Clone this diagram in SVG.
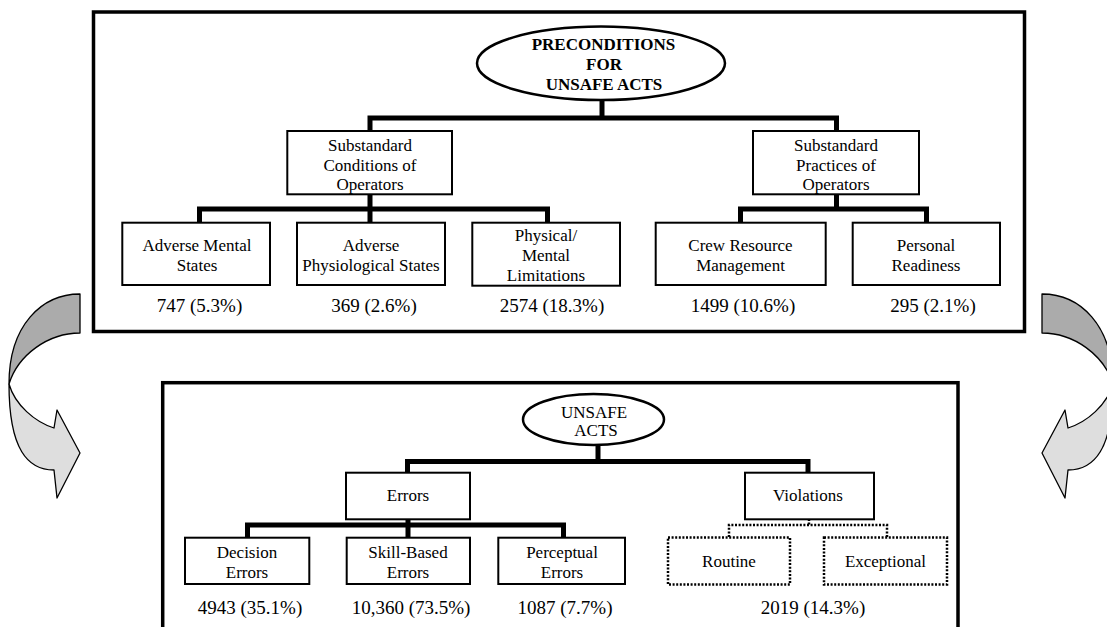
<svg xmlns="http://www.w3.org/2000/svg" width="1107" height="627" viewBox="0 0 1107 627">
<style>
text{font-family:"Liberation Serif","Times New Roman",serif;font-size:17px;fill:#000;text-anchor:middle}
.num{font-size:19px}
.b{font-weight:bold}
.frame{fill:none;stroke:#000;stroke-width:3.5}
.box{fill:#fff;stroke:#000;stroke-width:2}
.dbox{fill:#fff;stroke:#000;stroke-width:2.5;stroke-dasharray:2 1.6}
.ell{fill:#fff;stroke:#000;stroke-width:2.5}
.con{fill:none;stroke:#000;stroke-width:5}
.dcon{fill:none;stroke:#000;stroke-width:2.5;stroke-dasharray:2 1.6}
.back{fill:#ababab;stroke:#000;stroke-width:1.3;stroke-linejoin:round}
.front{fill:#dedede;stroke:#000;stroke-width:1.3;stroke-linejoin:round}
</style>
<rect width="1107" height="627" fill="#fff"/>

<!-- frames -->
<rect class="frame" x="93.5" y="12" width="931" height="319.5"/>
<rect class="frame" x="162.7" y="382.7" width="795.3" height="270"/>

<!-- curved arrows -->
<g id="arrow-left">
<path class="back" d="M80,294 C42,294 9,325 9,384 C18,355 48,333 80,333 Z"/>
<path class="front" d="M9,384 C9,450 28,470 54,470 L57,498 L80,453 L57,410 L54,428 C35,422 15,405 9,384 Z"/>
</g>
<g id="arrow-right" transform="translate(1122,0) scale(-1,1)">
<path class="back" d="M80,294 C42,294 9,325 9,384 C18,355 48,333 80,333 Z"/>
<path class="front" d="M9,384 C9,450 28,470 54,470 L57,498 L80,453 L57,410 L54,428 C35,422 15,405 9,384 Z"/>
</g>

<!-- connectors -->
<g id="connectors">
<path class="con" d="M602,100 V118 M370,131 V118 H836.5 V131"/>
<path class="con" d="M370,194 V209 M199.5,223 V209 H547.5 V223 M370,209 V223"/>
<path class="con" d="M836.5,194 V209 M740.5,223 V209 H926.5 V223"/>
<path class="con" d="M598,445 V461.5 M407.5,473 V461.5 H808 V473"/>
<path class="con" d="M408,519 V525 M247.5,538 V525 H563.5 V538 M408,525 V538"/>
<path class="dcon" d="M809,519 V525 M729,537 V525 H887 V537"/>
</g>

<!-- top tree -->
<g id="preconditions">
<ellipse class="ell" cx="601" cy="63.3" rx="124" ry="36.7"/>
<text class="b" x="603.5" y="50">PRECONDITIONS</text>
<text class="b" x="604" y="70">FOR</text>
<text class="b" x="604" y="90">UNSAFE ACTS</text>
</g>
<g id="substandard-conditions">
<rect class="box" x="287.3" y="131" width="164.7" height="63.3"/>
<text x="370" y="151">Substandard</text>
<text x="370" y="170.5">Conditions of</text>
<text x="370" y="190">Operators</text>
</g>
<g id="substandard-practices">
<rect class="box" x="753" y="131" width="166" height="63.3"/>
<text x="836" y="151">Substandard</text>
<text x="836" y="170.5">Practices of</text>
<text x="836" y="190">Operators</text>
</g>
<g id="adverse-mental">
<rect class="box" x="122.3" y="222.7" width="147.7" height="62.3"/>
<text x="197" y="251">Adverse Mental</text>
<text x="197" y="271">States</text>
<text class="num" x="199.5" y="312">747 (5.3%)</text>
</g>
<g id="adverse-physiological">
<rect class="box" x="297" y="222.7" width="148" height="62.3"/>
<text x="371" y="251">Adverse</text>
<text x="371" y="271">Physiological States</text>
<text class="num" x="374" y="312">369 (2.6%)</text>
</g>
<g id="physical-mental">
<rect class="box" x="472.3" y="222.7" width="147.7" height="63"/>
<text x="546" y="240.5">Physical/</text>
<text x="546" y="260.5">Mental</text>
<text x="546" y="280.5">Limitations</text>
<text class="num" x="552" y="312">2574 (18.3%)</text>
</g>
<g id="crew-resource">
<rect class="box" x="655.7" y="222.7" width="170" height="62.3"/>
<text x="740.5" y="251">Crew Resource</text>
<text x="740.5" y="271">Management</text>
<text class="num" x="743" y="312">1499 (10.6%)</text>
</g>
<g id="personal-readiness">
<rect class="box" x="852.7" y="222.7" width="147.3" height="62.3"/>
<text x="926" y="251">Personal</text>
<text x="926" y="271">Readiness</text>
<text class="num" x="933" y="312">295 (2.1%)</text>
</g>

<!-- bottom tree -->
<g id="unsafe-acts">
<ellipse class="ell" cx="593.5" cy="419.5" rx="70.5" ry="25.5"/>
<text x="594" y="418">UNSAFE</text>
<text x="596" y="436">ACTS</text>
</g>
<g id="errors">
<rect class="box" x="346" y="472.7" width="124" height="46.6"/>
<text x="408" y="501">Errors</text>
</g>
<g id="violations">
<rect class="box" x="745" y="472.7" width="129" height="46.6"/>
<text x="808" y="501">Violations</text>
</g>
<g id="decision-errors">
<rect class="box" x="185" y="537.7" width="124.3" height="46.3"/>
<text x="247" y="558.3">Decision</text>
<text x="247" y="578.3">Errors</text>
<text class="num" x="250" y="614">4943 (35.1%)</text>
</g>
<g id="skill-based-errors">
<rect class="box" x="346.7" y="537.7" width="123.3" height="46.3"/>
<text x="408" y="558.3">Skill-Based</text>
<text x="408" y="578.3">Errors</text>
<text class="num" x="411" y="614">10,360 (73.5%)</text>
</g>
<g id="perceptual-errors">
<rect class="box" x="498.3" y="537.7" width="126.7" height="46.3"/>
<text x="562" y="558.3">Perceptual</text>
<text x="562" y="578.3">Errors</text>
<text class="num" x="565" y="614">1087 (7.7%)</text>
</g>
<g id="routine">
<rect class="dbox" x="668" y="537.5" width="122" height="47"/>
<text x="729" y="567.3">Routine</text>
</g>
<g id="exceptional">
<rect class="dbox" x="824" y="537.5" width="123" height="47"/>
<text x="885.5" y="567.3">Exceptional</text>
</g>
<text class="num" x="813" y="614">2019 (14.3%)</text>
</svg>
